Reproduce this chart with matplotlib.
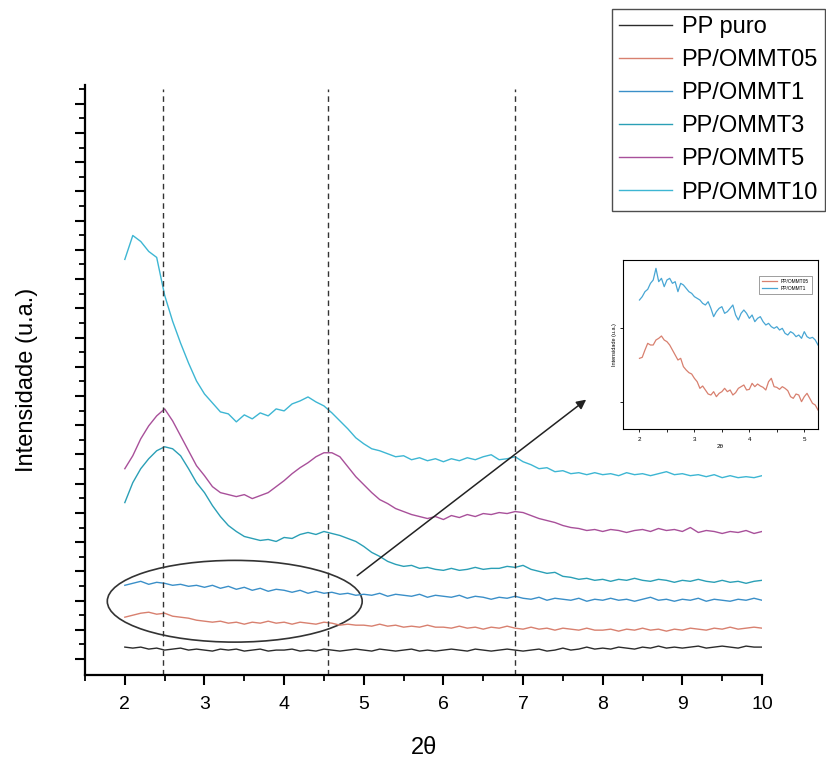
import numpy as np
import matplotlib
matplotlib.use("Agg")
import matplotlib.pyplot as plt
from matplotlib.patches import Ellipse
from matplotlib.ticker import FixedLocator, MultipleLocator

plt.rcParams['font.family'] = ['Liberation Sans', 'DejaVu Sans']

# 2-theta grid of the main diffractograms (step 0.1)
two_theta = np.round(np.arange(20, 101) / 10, 1)

# intensities (arbitrary units, offset curves)
pp_puro = [28, 27, 28, 26, 27, 25, 26, 27, 25, 26,
           25, 24, 26, 25, 26, 24, 25, 26, 24, 25,
           25, 26, 24, 25, 24, 26, 25, 24, 25, 26,
           25, 24, 26, 25, 24, 25, 26, 24, 25, 24,
           25, 26, 25, 24, 26, 25, 24, 25, 26, 25,
           24, 25, 26, 24, 25, 27, 25, 26, 28, 26,
           27, 26, 28, 27, 26, 28, 27, 29, 27, 28,
           27, 28, 29, 27, 28, 29, 28, 27, 29, 28, 28]
ommt05 = [58, 60, 62, 63, 61, 62, 59, 58, 57, 55,
          54, 53, 54, 52, 53, 51, 53, 52, 54, 52,
          53, 51, 53, 52, 51, 53, 52, 50, 51, 50,
          50, 49, 51, 49, 50, 48, 49, 48, 50, 48,
          48, 47, 49, 47, 48, 46, 48, 47, 49, 47,
          46, 48, 46, 47, 45, 47, 46, 45, 47, 45,
          45, 46, 44, 46, 45, 47, 45, 46, 44, 46,
          45, 47, 46, 45, 47, 46, 48, 46, 47, 48, 47]
ommt1 = [90, 92, 94, 91, 93, 92, 90, 91, 89, 90,
         88, 90, 87, 89, 86, 88, 85, 87, 84, 86,
         85, 83, 85, 82, 84, 82, 83, 81, 82, 80,
         81, 80, 82, 79, 81, 80, 79, 81, 78, 80,
         79, 78, 80, 77, 79, 78, 76, 78, 77, 79,
         77, 76, 78, 75, 77, 76, 75, 77, 74, 76,
         75, 77, 75, 76, 74, 76, 78, 75, 76, 74,
         76, 75, 77, 74, 76, 75, 74, 76, 75, 77, 75]
ommt3 = [173, 193, 207, 217, 225, 229, 227, 220, 207, 193,
         183, 170, 159, 150, 144, 139, 137, 135, 136, 134,
         138, 137, 141, 143, 141, 144, 142, 140, 137, 134,
         129, 123, 119, 114, 111, 109, 110, 107, 108, 106,
         105, 107, 105, 106, 108, 106, 107, 107, 109, 108,
         110, 106, 104, 102, 103, 99, 98, 96, 97, 95,
         96, 94, 96, 95, 97, 95, 94, 96, 95, 93,
         95, 94, 96, 94, 93, 95, 93, 94, 92, 94, 95]
ommt5 = [207, 220, 237, 250, 260, 267, 255, 240, 225, 210,
         200, 189, 183, 181, 179, 181, 177, 180, 183, 189,
         195, 202, 208, 213, 219, 223, 223, 219, 209, 199,
         191, 183, 176, 172, 167, 164, 161, 159, 157, 159,
         156, 160, 158, 161, 159, 162, 161, 163, 162, 164,
         163, 160, 157, 155, 153, 150, 148, 147, 145, 146,
         144, 146, 145, 143, 145, 146, 144, 147, 145, 146,
         144, 148, 143, 145, 144, 142, 144, 143, 145, 142, 144]
ommt10 = [417, 441, 435, 425, 419, 381, 355, 333, 313, 295,
          282, 273, 264, 262, 254, 261, 257, 263, 260, 267,
          265, 272, 275, 279, 274, 270, 263, 255, 247, 238,
          232, 227, 225, 222, 219, 220, 216, 218, 215, 217,
          214, 217, 215, 218, 216, 219, 221, 216, 217, 219,
          214, 211, 207, 208, 204, 205, 202, 203, 201, 203,
          201, 202, 200, 203, 201, 202, 200, 202, 204, 201,
          202, 200, 201, 199, 201, 198, 200, 198, 199, 198, 200]

labels = ['PP puro', 'PP/OMMT05', 'PP/OMMT1', 'PP/OMMT3', 'PP/OMMT5', 'PP/OMMT10']
colors = ['#2b2b2b', '#d8806f', '#3a8fc8', '#2a9fb6', '#a8509a', '#3db6d3']
series = [pp_puro, ommt05, ommt1, ommt3, ommt5, ommt10]

# zoomed inset (2 - 5.25, step 0.05)
inset_theta = np.round(np.arange(40, 106) / 20, 2)
inset_ommt1 = [387, 397, 412, 419, 437, 447, 482, 442, 452, 427,
               447, 452, 437, 442, 412, 437, 432, 422, 412, 407,
               397, 392, 387, 377, 372, 382, 362, 337, 352, 362,
               367, 347, 352, 362, 372, 342, 327, 347, 357, 347,
               332, 342, 322, 332, 337, 322, 312, 317, 307, 302,
               307, 297, 302, 287, 282, 292, 287, 277, 282, 272,
               292, 277, 272, 275, 267, 252]
inset_ommt05 = [212, 215, 237, 257, 252, 252, 267, 272, 279, 267,
                262, 252, 237, 222, 207, 212, 187, 177, 169, 165,
                152, 142, 122, 129, 117, 105, 102, 112, 97, 107,
                112, 122, 112, 117, 102, 109, 122, 127, 132, 117,
                119, 137, 127, 135, 129, 125, 117, 142, 152, 127,
                125, 119, 127, 122, 115, 97, 92, 105, 102, 82,
                97, 107, 92, 77, 72, 57]

# reference lines
peak_lines = [2.48, 4.55, 6.9]

fig = plt.figure(figsize=(8.26, 7.58), dpi=100)
ax = fig.add_axes([85 / 826, 1 - 675 / 758, 677 / 826, 590 / 758])

for vals, lab, col in zip(series, labels, colors):
    ax.plot(two_theta, vals, color=col, lw=1.0, label=lab)

for xv in peak_lines:
    ax.plot([xv, xv], [0, 588], color='#333333', lw=1.0, ls=(0, (4, 3)))

ax.add_patch(Ellipse((3.38, 74), 3.2, 82, fill=False, edgecolor='#333333', lw=1.2))
ax.annotate('', xy=(7.82, 278), xytext=(4.89, 98),
            arrowprops=dict(arrowstyle='-|>', color='#222222', lw=1.1, mutation_scale=14))

ax.set_xlim(1.5, 10)
ax.set_ylim(0, 592)
ax.spines['top'].set_visible(False)
ax.spines['right'].set_visible(False)
ax.spines['left'].set_linewidth(1.6)
ax.spines['bottom'].set_linewidth(1.6)
ax.xaxis.set_major_locator(FixedLocator(range(2, 11)))
ax.xaxis.set_minor_locator(MultipleLocator(0.5))
ax.yaxis.set_major_locator(FixedLocator([16 + 29.33 * k for k in range(20)]))
ax.yaxis.set_minor_locator(FixedLocator([30.67 + 29.33 * k for k in range(20)]))
ax.tick_params(axis='both', which='major', direction='out', length=7, width=1.5, labelsize=14)
ax.tick_params(axis='both', which='minor', direction='out', length=4.5, width=1.3)
ax.tick_params(axis='x', which='major', pad=8)
ax.tick_params(axis='y', labelleft=False)
ax.set_xlabel('2θ', fontsize=17)
ax.xaxis.set_label_coords(0.5, -0.105)
ax.set_ylabel('Intensidade (u.a.)', fontsize=17)
ax.yaxis.set_label_coords(-0.07, 0.5)

leg = fig.legend(loc='upper right', bbox_to_anchor=(825 / 826, 1 - 9 / 758), fontsize=17,
                 frameon=True, fancybox=False, edgecolor='#222222', handlelength=2.25,
                 handletextpad=0.4, labelspacing=0.47, borderpad=0.3, borderaxespad=0)
leg.get_frame().set_linewidth(1.0)

# inset
axi = fig.add_axes([623 / 826, 1 - 429 / 758, 195 / 826, 169 / 758])
axi.plot(inset_theta, inset_ommt05, color='#d8806f', lw=0.9, label='PP/OMMT05')
axi.plot(inset_theta, inset_ommt1, color='#48a6d4', lw=0.9, label='PP/OMMT1')
axi.set_xlim(1.7, 5.25)
axi.set_ylim(0, 507)
axi.xaxis.set_major_locator(FixedLocator([2, 3, 4, 5]))
axi.xaxis.set_minor_locator(FixedLocator([2.5, 3.5, 4.5]))
axi.yaxis.set_major_locator(FixedLocator([80, 304]))
axi.tick_params(axis='both', which='both', direction='out', length=2, width=0.6, labelsize=4.5)
axi.tick_params(axis='y', labelleft=False)
for s in axi.spines.values():
    s.set_linewidth(0.8)
axi.set_xlabel('2θ', fontsize=4.5, labelpad=2)
axi.set_ylabel('Intensidade (u.a.)', fontsize=4, labelpad=2)
li = axi.legend(loc='upper right', fontsize=3.5, frameon=True, fancybox=False,
                edgecolor='#555555', handlelength=3, borderpad=0.6, labelspacing=0.4,
                bbox_to_anchor=(0.98, 0.92))
li.get_frame().set_linewidth(0.5)

fig.savefig('out.png', dpi=100)
